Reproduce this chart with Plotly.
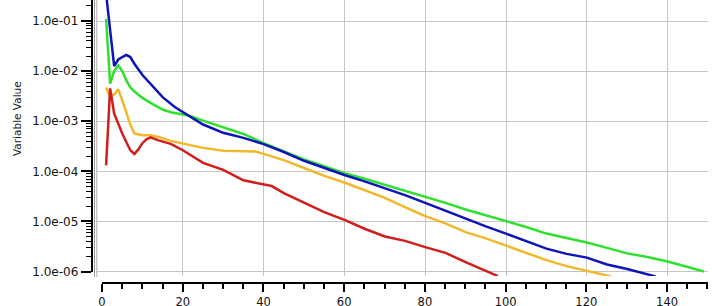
import plotly.graph_objects as go

# ---- data ----
blue_x = [1, 2, 3, 4, 6, 7, 8, 10, 12, 15, 18, 20, 25, 30, 35, 40, 45, 50, 55, 60, 65, 70, 75, 80, 85, 90, 95, 100, 105, 110, 115, 120, 125, 130, 137]
blue_y = [0.35, 0.063, 1.25e-2, 1.7e-2, 2.1e-2, 1.9e-2, 1.4e-2, 8.3e-3, 5.5e-3, 3.0e-3, 1.9e-3, 1.5e-3, 8.5e-4, 5.8e-4, 4.6e-4, 3.45e-4, 2.4e-4, 1.6e-4, 1.15e-4, 8.3e-5, 6.2e-5, 4.5e-5, 3.3e-5, 2.3e-5, 1.6e-5, 1.1e-5, 7.8e-6, 5.6e-6, 4.0e-6, 2.8e-6, 2.2e-6, 1.85e-6, 1.35e-6, 1.1e-6, 7.8e-7]

green_x = [1, 2, 3, 4, 5, 6, 7, 8, 10, 12, 15, 17, 20, 22, 25, 30, 35, 40, 45, 50, 55, 60, 65, 70, 75, 80, 85, 90, 95, 100, 105, 110, 115, 120, 125, 130, 135, 140, 145, 149]
green_y = [0.11, 5.6e-3, 1.0e-2, 1.3e-2, 1.0e-2, 6.5e-3, 4.7e-3, 3.9e-3, 2.9e-3, 2.3e-3, 1.7e-3, 1.5e-3, 1.35e-3, 1.25e-3, 1.02e-3, 7.5e-4, 5.5e-4, 3.6e-4, 2.5e-4, 1.7e-4, 1.25e-4, 9.0e-5, 7.0e-5, 5.3e-5, 4.0e-5, 3.1e-5, 2.3e-5, 1.7e-5, 1.3e-5, 9.8e-6, 7.6e-6, 5.6e-6, 4.6e-6, 3.7e-6, 2.9e-6, 2.25e-6, 1.9e-6, 1.55e-6, 1.2e-6, 9.8e-7]

orange_x = [1, 2, 3, 4, 5, 6, 7, 8, 10, 12, 14, 17, 20, 25, 30, 35, 38, 40, 45, 50, 55, 60, 65, 70, 75, 80, 85, 90, 95, 100, 105, 110, 115, 120, 126]
orange_y = [4.7e-3, 3.1e-3, 3.4e-3, 4.3e-3, 2.6e-3, 1.5e-3, 8.5e-4, 5.6e-4, 5.2e-4, 5.2e-4, 4.8e-4, 4.0e-4, 3.5e-4, 2.9e-4, 2.55e-4, 2.45e-4, 2.45e-4, 2.2e-4, 1.65e-4, 1.15e-4, 8.0e-5, 5.9e-5, 4.1e-5, 2.9e-5, 1.9e-5, 1.25e-5, 9.0e-6, 6.0e-6, 4.5e-6, 3.2e-6, 2.3e-6, 1.65e-6, 1.25e-6, 1.0e-6, 7.8e-7]

red_x = [1, 2, 3, 4, 5, 6, 7, 8, 9, 10, 11, 12, 14, 17, 20, 25, 30, 35, 40, 42, 45, 50, 55, 60, 65, 70, 75, 80, 85, 90, 95, 98]
red_y = [1.3e-4, 4.5e-3, 1.4e-3, 8.5e-4, 5.6e-4, 3.8e-4, 2.6e-4, 2.2e-4, 2.7e-4, 3.6e-4, 4.3e-4, 4.7e-4, 4.1e-4, 3.5e-4, 2.6e-4, 1.45e-4, 1.05e-4, 6.5e-5, 5.5e-5, 5.0e-5, 3.6e-5, 2.3e-5, 1.5e-5, 1.05e-5, 7.0e-6, 4.9e-6, 4.0e-6, 3.0e-6, 2.3e-6, 1.5e-6, 1.0e-6, 7.9e-7]

x_tick_vals = [0, 20, 40, 60, 80, 100, 120, 140]
x_tick_text = ["0", "20", "40", "60", "80", "100", "120", "140"]
y_tick_vals = [1e-1, 1e-2, 1e-3, 1e-4, 1e-5, 1e-6]
y_tick_text = ["1.0e-01", "1.0e-02", "1.0e-03", "1.0e-04", "1.0e-05", "1.0e-06"]
y_title = "Variable Value"

# ---- layout geometry (pixels) ----
W, H = 717, 306
FONT = "DejaVu Sans"
px = lambda p: p / W
py = lambda p: 1 - p / H

fig = go.Figure()
series = [
    (green_x, green_y, "#2fe02f"),
    (orange_x, orange_y, "#f3b82a"),
    (red_x, red_y, "#d21d1d"),
    (blue_x, blue_y, "#0d14b8"),
]
for xs, ys, c in series:
    fig.add_trace(go.Scatter(x=xs, y=ys, mode="lines", line=dict(color=c, width=2.5),
                             showlegend=False, hoverinfo="skip"))

# dummy trace for offset axes
fig.add_trace(go.Scatter(x=[], y=[], xaxis="x2", yaxis="y2", showlegend=False))

minor_y = [k * 10.0 ** e for e in range(-7, 0) for k in range(2, 10)]
minor_x = [v for v in range(5, 151, 5) if v % 20 != 0]

fig.update_layout(
    width=W, height=H,
    margin=dict(l=0, r=0, t=0, b=0, autoexpand=False),
    paper_bgcolor="white", plot_bgcolor="rgba(0,0,0,0)",
    font=dict(family=FONT, size=12, color="#111"),
    xaxis=dict(domain=[px(97.2), px(708)], range=[-1.2, 150], showgrid=True,
               gridcolor="#c6c6c6", gridwidth=1, tickmode="array", automargin=False,
               tickvals=x_tick_vals[1:], showticklabels=False, ticks="",
               zeroline=False, showline=False),
    yaxis=dict(domain=[py(276), 1], type="log", range=[-6.1, -0.58], showgrid=True,
               gridcolor="#c6c6c6", gridwidth=1, tickmode="array", automargin=False,
               tickvals=y_tick_vals, showticklabels=False, ticks="",
               zeroline=False, showline=False),
    xaxis2=dict(domain=[px(102), px(708)], range=[0, (708 - 102) / 4.036], anchor="free",
                position=py(283), showgrid=False, zeroline=False, showline=True,
                linecolor="black", linewidth=1.5, ticks="outside", ticklen=8,
                tickwidth=1.5, tickcolor="black", tickmode="array", automargin=False,
                tickvals=x_tick_vals, ticktext=x_tick_text, ticklabelstandoff=0,
                tickfont=dict(family=FONT, size=11.5, color="#111"),
                minor=dict(tickmode="array", tickvals=minor_x, ticks="outside",
                           ticklen=5, tickwidth=1.5, tickcolor="black", showgrid=False)),
    yaxis2=dict(domain=[py(271.5), 1], type="log", range=[-6.0, -0.58], anchor="free",
                position=px(91.5), showgrid=False, zeroline=False, showline=True,
                linecolor="black", linewidth=1.5, ticks="outside", ticklen=10,
                tickwidth=1.5, tickcolor="black", tickmode="array", automargin=False,
                tickvals=y_tick_vals, ticktext=y_tick_text,
                tickfont=dict(family=FONT, size=12, color="#111"),
                minor=dict(tickmode="array", tickvals=minor_y, ticks="outside",
                           ticklen=5, tickwidth=1, tickcolor="black", showgrid=False)),
    shapes=[
        dict(type="line", xref="paper", yref="paper", x0=px(94.5), x1=px(94.5),
             y0=py(277), y1=1, line=dict(color="#9a9a9a", width=1)),
        dict(type="line", xref="paper", yref="paper", x0=px(96.8), x1=px(96.8),
             y0=py(277), y1=1, line=dict(color="#b0b0b0", width=1)),
    ],
    annotations=[
        dict(text=y_title, x=px(17), y=py(119), xref="paper", yref="paper",
             showarrow=False, textangle=-90, font=dict(family=FONT, size=10.5, color="#222"),
             xanchor="center", yanchor="middle"),
    ],
)

fig.write_html("out.html")
